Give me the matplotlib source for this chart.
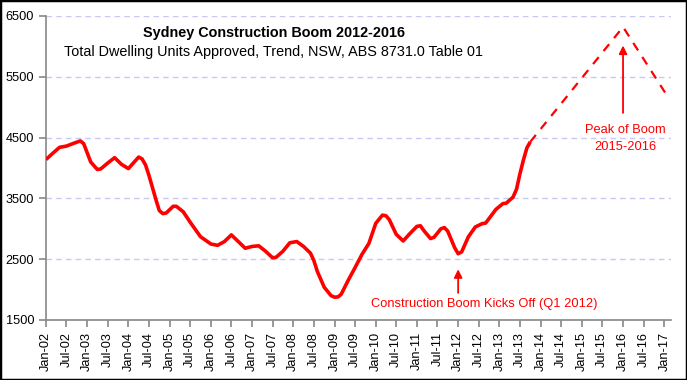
import numpy as np
import pandas as pd
import matplotlib
matplotlib.use("Agg")
import matplotlib.pyplot as plt
from matplotlib.patches import Rectangle

plt.rcParams['font.family'] = ['Liberation Sans', 'DejaVu Sans']

# trend series (month, dwelling units)
months = ["2002-01", "2002-03", "2002-05", "2002-07", "2002-09", "2002-11", "2002-12",
          "2003-02", "2003-04", "2003-05", "2003-07", "2003-09", "2003-11",
          "2004-01", "2004-03", "2004-04", "2004-05", "2004-06", "2004-07", "2004-09",
          "2004-10", "2004-11", "2004-12", "2005-02", "2005-03", "2005-05", "2005-07",
          "2005-10", "2006-01", "2006-03", "2006-05", "2006-07", "2006-09", "2006-11",
          "2007-01", "2007-03", "2007-05", "2007-07", "2007-08", "2007-10", "2007-12",
          "2008-02", "2008-04", "2008-06", "2008-07", "2008-08", "2008-10", "2008-12",
          "2009-01", "2009-02", "2009-03", "2009-05", "2009-07", "2009-09", "2009-11",
          "2010-01", "2010-03", "2010-04", "2010-05", "2010-07", "2010-09", "2010-11",
          "2011-01", "2011-02", "2011-03", "2011-05", "2011-06", "2011-08", "2011-09",
          "2011-10", "2011-12", "2012-01", "2012-02", "2012-04", "2012-06", "2012-08",
          "2012-09", "2012-12", "2013-02", "2013-03", "2013-05", "2013-06", "2013-07",
          "2013-08", "2013-09", "2013-10"]
units = [4140, 4240, 4340, 4360, 4405, 4445, 4400,
         4100, 3975, 3985, 4080, 4170, 4060,
         3990, 4115, 4180, 4150, 4050, 3880, 3480,
         3300, 3250, 3260, 3370, 3370, 3280, 3110,
         2870, 2750, 2728, 2790, 2900, 2790, 2680,
         2710, 2720, 2630, 2525, 2530, 2630, 2770,
         2790, 2710, 2600, 2480, 2300, 2040, 1900,
         1875, 1880, 1925, 2150, 2360, 2580, 2760,
         3090, 3225, 3215, 3150, 2910, 2800, 2925,
         3040, 3050, 2975, 2840, 2860, 3000, 3020,
         2960, 2690, 2590, 2620, 2870, 3030, 3085,
         3095, 3320, 3415, 3420, 3520, 3650, 3900,
         4130, 4330, 4430]

# projected boom path
proj_months = ["2013-10", "2016-01", "2017-02"]
proj_units = [4430, 6320, 5170]

title = "Sydney Construction Boom 2012-2016"
subtitle = "Total Dwelling Units Approved, Trend, NSW, ABS 8731.0 Table 01"
kick_label = "Construction Boom Kicks Off (Q1 2012)"
peak_label = ["Peak of Boom", "2015-2016"]

W, H = 687, 380
fig = plt.figure(figsize=(W / 100, H / 100), dpi=100)
ax = fig.add_axes([46 / W, 1 - 320 / H, (671 - 46) / W, (320 - 16) / H])


def px(x, y):
    return x / W, 1 - y / H


x = pd.to_datetime(months)
xp = pd.to_datetime(proj_months)
ax.plot(x, units, color='#ff0000', lw=2.6, solid_capstyle='butt', zorder=3)
ax.plot(xp, proj_units, color='#ff0000', lw=1.6, dashes=(4, 3.5), zorder=3)

ax.set_ylim(1500, 6500)
ax.set_yticks(np.arange(1500, 6501, 1000))
ax.set_xlim(pd.Timestamp("2002-01-01"), pd.Timestamp("2017-03-01"))
ticks = pd.date_range("2002-01-01", "2017-01-01", freq="6MS")
ax.set_xticks(ticks)
ax.set_xticklabels([t.strftime("%b-%y") for t in ticks], rotation=90)

ax.grid(axis='y', color='#c8c8f4', linestyle=(0, (4, 3)), lw=1)
ax.set_axisbelow(True)
for s in ['top', 'right']:
    ax.spines[s].set_visible(False)
for s in ['left', 'bottom']:
    ax.spines[s].set_color('#888888')
    ax.spines[s].set_linewidth(1.2)
ax.tick_params(axis='both', colors='#888888', labelcolor='black', labelsize=9.2,
               length=5, width=1.2)

fig.text(*px(274, 33), title, ha='center', va='center', fontsize=10.4, fontweight='bold')
fig.text(*px(273, 52), subtitle, ha='center', va='center', fontsize=10.4)

# annotations
ax.annotate("", xy=(pd.Timestamp("2012-01-01"), 2380), xytext=(pd.Timestamp("2012-01-01"), 1900),
            arrowprops=dict(arrowstyle='-|>', color='#ff0000', lw=1.3, mutation_scale=12))
fig.text(*px(484, 304), kick_label, color='#ff0000', ha='center', va='center', fontsize=9.3)
ax.annotate("", xy=(pd.Timestamp("2016-01-01"), 6060), xytext=(pd.Timestamp("2016-01-01"), 4860),
            arrowprops=dict(arrowstyle='-|>', color='#ff0000', lw=1.3, mutation_scale=12))
fig.text(*px(625, 130), peak_label[0], color='#ff0000', ha='center', va='center', fontsize=9.3)
fig.text(*px(625, 147), peak_label[1], color='#ff0000', ha='center', va='center', fontsize=9.3)

fig.patches.append(Rectangle((0, 0), 1, 1, transform=fig.transFigure, fill=False,
                             edgecolor='black', lw=2.5))

fig.savefig("out.png", dpi=100)
